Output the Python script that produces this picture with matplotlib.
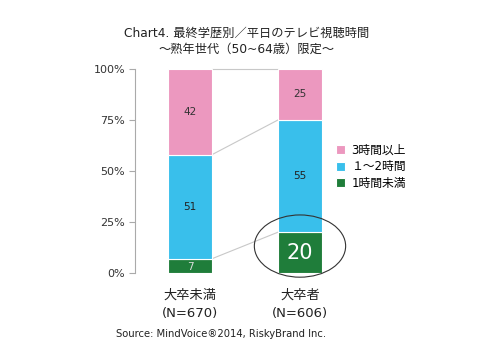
import matplotlib.pyplot as plt
from matplotlib.patches import Ellipse
import numpy as np

plt.rcParams['font.family'] = ['DejaVu Sans', 'Noto Sans CJK JP']

groups = ['大卒未満\n(N=670)', '大卒者\n(N=606)']
series = ['1時間未満', '１～2時間', '3時間以上']
under1 = [7, 20]
one_two = [51, 55]
over3 = [42, 25]
colors = ['#1f7d3a', '#39bfeb', '#ec98bf']

fig = plt.figure(figsize=(4.94, 3.5), dpi=100)
ax = fig.add_axes([0.2733, 0.22, 0.4453, 0.583])

x = np.arange(len(groups))
w = 0.4
vals = [under1, one_two, over3]
bottom = np.zeros(len(groups))
for v, c, name in zip(vals, colors, series):
    ax.bar(x, v, w, bottom=bottom, color=c, edgecolor='white', linewidth=0.8, label=name, zorder=2)
    bottom = bottom + np.array(v)

# connecting lines
cum = np.cumsum(np.array(vals), axis=0)
for row in cum:
    ax.plot([x[0] + w / 2, x[1] - w / 2], [row[0], row[1]], color='#c8c8c8', lw=0.8, zorder=1, clip_on=False)

# labels
lab_col = [['#dddddd', 'white'], ['#222222', '#222222'], ['#333333', '#333333']]
sizes = [[7.5, 15], [7.5, 7.5], [7.5, 7.5]]
bottom = np.zeros(len(groups))
for i, v in enumerate(vals):
    for j in range(len(groups)):
        yy = bottom[j] + v[j] / 2
        if i == 0 and j == 0:
            yy = bottom[j] + v[j] / 2 - 0.8
        ax.text(x[j], yy, str(v[j]), ha='center', va='center',
                fontsize=sizes[i][j], color=lab_col[i][j], zorder=3)
    bottom = bottom + np.array(v)

ax.add_patch(Ellipse((x[1], 13.2), 0.83, 30.5, fill=False, edgecolor='#333333', lw=0.8, zorder=4, clip_on=False))

ax.set_xlim(-0.5, 1.5)
ax.set_ylim(0, 100)
ax.set_yticks([0, 25, 50, 75, 100])
ax.set_yticklabels(['0%', '25%', '50%', '75%', '100%'], fontsize=8, color='#333333')
ax.set_xticks(x)
ax.set_xticklabels(groups, fontsize=9.5, color='#222222', linespacing=1.6)
ax.tick_params(axis='x', length=0, pad=11)
ax.tick_params(axis='y', length=4, color='#aaaaaa', pad=3)
for s in ['top', 'right', 'bottom']:
    ax.spines[s].set_visible(False)
ax.spines['left'].set_color('#aaaaaa')
ax.spines['left'].set_linewidth(0.8)

h, l = ax.get_legend_handles_labels()
ax.legend(h[::-1], l[::-1], loc='upper left', bbox_to_anchor=(0.865, 0.685), frameon=False,
          fontsize=8.5, handlelength=0.8, handleheight=0.8, handletextpad=0.5, labelspacing=0.3)

fig.text(0.5, 0.905, 'Chart4. 最終学歴別／平日のテレビ視聴時間', ha='center', va='center', fontsize=8.8, color='#222222')
fig.text(0.5, 0.86, '～熟年世代（50~64歳）限定～', ha='center', va='center', fontsize=8.8, color='#222222')
fig.text(0.447, 0.045, 'Source: MindVoice®2014, RiskyBrand Inc.', ha='center', va='center', fontsize=7.2, color='#222222')

fig.savefig('out.png', dpi=100)
